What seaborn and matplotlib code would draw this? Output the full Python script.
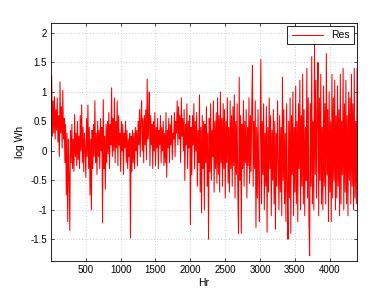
import numpy as np
import pandas as pd
import matplotlib
matplotlib.use("Agg")
import matplotlib.pyplot as plt
import seaborn as sns

# residuals, one value every 10 hours
res = [
    0.45, 1.28, 0.25, 0.85, 0.3, 0.92, 0.2, 0.7, 0.35, 0.9,
    0.15, 0.6, -0.1, 1.17, 0.3, 0.75, 0.05, 1.03, 0.2, 0.55,
    -0.2, 0.45, -0.75, 0.3, -1.2, 0.2, -0.4, -1.35, 0.35, -0.2,
    0.45, -0.3, 0.2, -0.35, 0.62, -0.1, 0.3, -0.25, 0.5, -0.15,
    0.25, -0.3, 0.6, 0.0, 0.78, -0.2, 0.4, -0.35, 0.3, 0.05,
    -0.45, 0.55, -0.1, 0.78, -0.3, 0.4, -0.75, 0.2, -1.0, 0.35,
    -0.3, 0.45, -0.1, 0.85, -0.2, 0.3, -0.4, 0.5, -0.1, 0.35,
    -0.3, 0.55, 0.0, 0.4, -1.22, 0.87, -0.3, 0.25, -0.65, 0.45,
    -0.2, 0.5, -0.05, 0.65, -0.3, 0.45, 0.1, 1.07, -0.1, 0.55,
    0.0, 0.9, -0.2, 0.5, 0.05, 0.85, -0.25, 0.6, 0.1, 0.3,
    -0.35, 0.5, 0.0, 0.45, -0.4, 0.3, 0.05, 0.5, -0.2, 0.35,
    -0.3, 0.2, -0.1, 0.3, -1.48, 0.25, -0.35, 0.35, -0.2, 0.3,
    -0.3, 0.4, 0.0, 0.35, -0.25, 0.5, 0.1, 0.7, -0.1, 0.55,
    0.85, 0.0, 0.55, -0.2, 0.6, 0.1, 0.7, -0.15, 1.22, 0.2,
    0.5, 1.0, -0.25, 0.6, 0.1, 0.45, -0.3, 0.5, 0.0, 0.65,
    -0.25, 0.4, 0.05, 0.55, -0.3, 0.35, 0.1, 0.6, -0.2, 0.4,
    0.0, 0.5, -0.25, 0.3, -0.2, 0.65, -0.45, 0.35, 0.05, 0.55,
    -0.2, 0.45, 0.1, 0.6, -0.15, 0.3, 0.2, 0.65, -0.1, 0.5,
    0.3, 0.85, 0.1, 0.75, 0.2, 0.6, -0.2, 0.9, 0.25, 0.55,
    0.0, 0.7, -0.5, 0.45, 0.1, 0.8, -0.3, 0.5, 0.05, 0.6,
    -1.25, 0.4, -0.4, 0.6, 0.1, 0.8, -0.3, 0.5, 0.0, 0.65,
    -0.6, 0.35, -0.2, 0.95, -0.7, 0.4, -1.05, 0.6, -0.3, 0.5,
    -1.0, 0.45, -0.2, 0.75, -0.6, 0.3, -1.5, 0.55, -0.35, 0.8,
    -0.5, 0.35, -0.1, 0.85, -0.7, 0.5, -0.3, 0.65, -0.55, 0.9,
    -0.4, 0.6, -0.7, 1.0, -0.2, 0.55, -0.6, 0.8, -0.3, 0.7,
    -0.8, 0.5, -0.2, 0.9, -0.55, 0.4, -0.7, 0.85, -0.3, 0.6,
    -0.6, 0.75, -0.25, 0.95, -0.8, 0.5, -0.4, 0.8, -0.7, -1.4,
    1.25, -0.5, 0.6, -1.4, 0.45, -0.3, 0.85, -0.6, 0.5, -0.2,
    0.7, -0.8, 0.4, -0.25, 0.9, -0.55, 0.6, -0.35, 0.75, 1.45,
    -0.6, 0.5, -0.3, 0.85, -1.3, 0.4, -0.8, 0.7, -0.5, -1.2,
    0.3, 1.55, -0.9, 0.5, -0.4, 0.8, -1.0, 0.3, -0.6, 0.75,
    -1.38, 0.4, -0.7, 0.9, -0.3, 0.6, -1.1, 0.35, -0.5, 0.7,
    -0.9, 0.5, -1.33, 0.3, -0.6, 0.85, -0.2, -1.0, 0.6, -0.7,
    0.4, -1.1, 1.25, -0.5, 0.7, -0.9, 0.3, -1.2, 0.8, -0.6,
    -1.5, 0.5, -0.8, 0.9, -1.4, 0.6, -0.4, 1.0, -1.1, 0.4,
    -0.7, 1.1, -0.9, 0.5, -1.2, 0.8, -0.3, 1.2, -1.0, 0.6,
    -0.6, 1.3, -0.9, 0.7, -1.1, 0.4, -0.5, 1.4, -0.8, 0.9,
    -1.2, -1.78, 0.8, -0.6, 1.6, -0.9, 0.5, -1.0, 1.85, -0.4,
    1.2, -0.8, 0.6, 1.5, -1.1, 0.9, -0.5, 1.3, -0.9, 0.4,
    -1.0, 1.1, -0.6, 0.8, -0.9, 1.65, -0.4, 0.7, -1.2, 1.0,
    -0.7, 0.5, -1.2, 1.3, -0.8, 0.9, -0.5, 1.2, -1.0, 0.6,
    -0.8, 1.1, -0.6, 0.7, -1.1, 1.3, -0.9, 0.5, -0.4, 1.4,
    -1.0, 0.8, -0.7, 1.2, -0.9, 0.6, -1.1, 1.0, -0.5, 0.9,
    -0.9, 1.3, -0.6, 0.8, -1.0, 1.4, -0.8, 0.5, -0.9, 1.4,
]
hours = list(range(1, 4400, 10))
xticks = [500, 1000, 1500, 2000, 2500, 3000, 3500, 4000]
yticks = [-1.5, -1, -0.5, 0, 0.5, 1, 1.5, 2]

df = pd.DataFrame({"Hr": hours, "Res": res})

sns.set_style("ticks")
plt.rcParams["font.family"] = ["Liberation Sans", "DejaVu Sans"]
plt.rcParams["xtick.direction"] = "in"
plt.rcParams["ytick.direction"] = "in"
plt.rcParams["axes.unicode_minus"] = False
plt.rcParams["text.color"] = "black"
plt.rcParams["xtick.color"] = "black"
plt.rcParams["ytick.color"] = "black"
plt.rcParams["axes.labelcolor"] = "black"

fig = plt.figure(figsize=(3.92, 2.95), dpi=100)
ax = fig.add_axes([0.13, 0.115, 0.781, 0.807])
sns.lineplot(data=df, x="Hr", y="Res", color="red", linewidth=0.75, label="Res", ax=ax)

ax.set_xlim(1, 4392)
ax.set_ylim(-1.87, 2.17)
ax.set_xticks(xticks)
ax.set_yticks(yticks)
ax.set_yticklabels([f"{v:g}" for v in yticks])
ax.tick_params(labelsize=7, length=2.5, width=0.5, top=True, right=True, pad=3)
ax.grid(True, linestyle=(0, (1, 3)), color="#a0a0a0", linewidth=0.5)
for s in ax.spines.values():
    s.set_linewidth(0.6)
    s.set_color("black")
ax.set_xlabel("Hr", fontsize=7.5, labelpad=2)
ax.set_ylabel("log Wh", fontsize=7.5, labelpad=4)
leg = ax.legend(loc="upper right", fontsize=7.5, fancybox=False, edgecolor="black",
                framealpha=1, borderaxespad=0.3, handlelength=3)
leg.get_frame().set_linewidth(0.6)

fig.savefig("out.png", dpi=100)
